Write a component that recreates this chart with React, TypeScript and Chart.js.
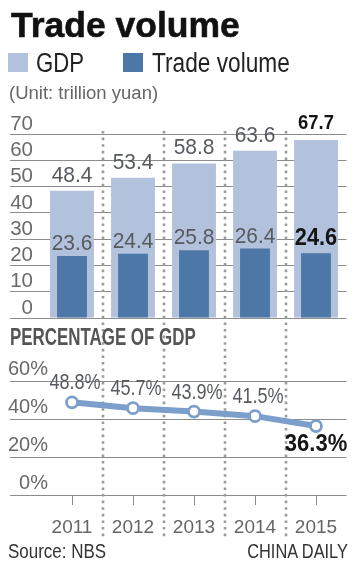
import { useEffect, useRef } from 'react';
import { Chart, registerables } from 'chart.js';

Chart.register(...registerables);

// ---- data ----
const years = ['2011', '2012', '2013', '2014', '2015'];
const gdp = [48.4, 53.4, 58.8, 63.6, 67.7];
const tradeVolume = [23.6, 24.4, 25.8, 26.4, 24.6];
const pctOfGdp = [48.8, 45.7, 43.9, 41.5, 36.3];
const barTicks = [0, 10, 20, 30, 40, 50, 60, 70];
const pctTicks = [0, 20, 40, 60];

// ---- style ----
const FONT = "'Liberation Sans', Arial, sans-serif";
const GDP_COLOR = '#b3c2dc';
const TRADE_COLOR = '#4d77a6';
const LINE_COLOR = '#7b9eca';
const GRID = '#8c8c8c';
const LABEL_GRAY = '#565a5f';

export default function App() {
  const ref = useRef<HTMLCanvasElement>(null);

  useEffect(() => {
    document.body.style.margin = '0';
    const canvas = ref.current;
    if (!canvas) return;

    // label styling per dataset: normal labels and the highlighted last one
    const labelStyles = [
      { size: 22.5, sx: 0.93, dy: -9, dx: 0, bSize: 20.5, bSx: 0.9, bDy: -11, suffix: '' },
      { size: 22.5, sx: 0.93, dy: -6, dx: 0, bSize: 24.5, bSx: 0.89, bDy: -8.5, suffix: '' },
      { size: 21.5, sx: 0.84, dy: -13, dx: 3, bSize: 23.3, bSx: 0.945, bDy: 25, suffix: '%' },
    ];

    const valueLabels = {
      id: 'valueLabels',
      afterDatasetsDraw(chart: any) {
        const ctx = chart.ctx;
        chart.data.datasets.forEach((ds: any, di: number) => {
          const meta = chart.getDatasetMeta(di);
          const st = labelStyles[di];
          meta.data.forEach((el: any, i: number) => {
            const v = ds.data[i] as number;
            const last = i === meta.data.length - 1;
            const text = v.toFixed(1) + st.suffix;
            ctx.save();
            ctx.textAlign = 'center';
            ctx.textBaseline = 'alphabetic';
            if (last) {
              ctx.font = `bold ${st.bSize}px ${FONT}`;
              ctx.fillStyle = '#151515';
              ctx.translate(el.x, el.y + st.bDy);
              ctx.scale(st.bSx, 1);
            } else {
              ctx.font = `${st.size}px ${FONT}`;
              ctx.fillStyle = LABEL_GRAY;
              ctx.translate(el.x + st.dx, el.y + st.dy);
              ctx.scale(st.sx, 1);
            }
            ctx.fillText(text, 0, 0);
            ctx.restore();
          });
        });
      },
    };

    const dividers = {
      id: 'dividers',
      beforeDatasetsDraw(chart: any) {
        const ctx = chart.ctx;
        const xs = chart.scales.x;
        const area = chart.chartArea;
        ctx.save();
        ctx.strokeStyle = '#9b9b9b';
        ctx.lineWidth = 2.6;
        ctx.setLineDash([2.6, 4]);
        for (let i = 0; i < years.length - 1; i++) {
          const px = Math.round((xs.getPixelForValue(i) + xs.getPixelForValue(i + 1)) / 2);
          ctx.beginPath();
          ctx.moveTo(px, area.top - 3);
          ctx.lineTo(px, area.bottom + 42);
          ctx.stroke();
        }
        ctx.restore();
      },
    };

    const chart = new Chart(canvas, {
      type: 'bar',
      data: {
        labels: years,
        datasets: [
          {
            label: 'GDP',
            data: gdp,
            backgroundColor: GDP_COLOR,
            yAxisID: 'yBar',
            grouped: false,
            barPercentage: 0.72,
            categoryPercentage: 1,
            order: 2,
          } as any,
          {
            label: 'Trade volume',
            data: tradeVolume,
            backgroundColor: TRADE_COLOR,
            yAxisID: 'yBar',
            grouped: false,
            barPercentage: 0.49,
            categoryPercentage: 1,
            order: 1,
          } as any,
          {
            type: 'line',
            label: 'Percentage of GDP',
            data: pctOfGdp,
            yAxisID: 'yLine',
            borderColor: LINE_COLOR,
            borderWidth: 6,
            pointRadius: 5.5,
            pointBorderWidth: 2.8,
            pointBackgroundColor: '#ffffff',
            pointBorderColor: LINE_COLOR,
            tension: 0,
            order: 0,
          } as any,
        ],
      },
      options: {
        animation: false,
        responsive: false,
        devicePixelRatio: 1,
        layout: { padding: { top: 134, right: 14.5, bottom: 33, left: 0 } },
        plugins: {
          legend: { display: false },
          tooltip: { enabled: false },
        },
        scales: {
          x: {
            type: 'category',
            offset: true,
            border: { display: false },
            grid: {
              drawOnChartArea: false,
              drawTicks: true,
              tickLength: 10,
              offset: false,
              color: GRID,
            },
            ticks: {
              font: { family: FONT, size: 19 },
              color: '#666666',
              padding: 11,
              autoSkip: false,
              maxRotation: 0,
            },
            afterFit: (s: any) => {
              s.height = 43;
            },
          },
          yBar: {
            type: 'linear',
            position: 'left',
            stack: 'main',
            stackWeight: 184,
            weight: 2,
            min: 0,
            max: 70,
            border: { display: false },
            grid: { color: GRID, drawTicks: true, tickLength: 31.5 },
            ticks: {
              font: { family: FONT, size: 20.5 },
              color: '#6a6a6a',
              padding: -23,
              labelOffset: -10,
              autoSkip: false,
            },
            afterBuildTicks: (s: any) => {
              s.ticks = barTicks.map((v) => ({ value: v }));
            },
            afterFit: (s: any) => {
              s.width = 41.5;
            },
          },
          yLine: {
            type: 'linear',
            position: 'left',
            stack: 'main',
            stackWeight: 177,
            weight: 1,
            min: 0,
            max: 93.16,
            border: { display: false },
            grid: { color: GRID, drawTicks: true, tickLength: 31.5 },
            ticks: {
              font: { family: FONT, size: 20 },
              color: '#6a6a6a',
              mirror: true,
              crossAlign: 'far',
              padding: -33.5,
              labelOffset: -11.5,
              autoSkip: false,
              callback: (v: any) => `${v}%`,
            },
            afterBuildTicks: (s: any) => {
              s.ticks = pctTicks.map((v) => ({ value: v }));
            },
            afterFit: (s: any) => {
              s.width = 41.5;
            },
          },
        } as any,
      },
      plugins: [dividers, valueLabels],
    });

    return () => chart.destroy();
  }, []);

  const abs = (o: any) => ({
    position: 'absolute' as const,
    whiteSpace: 'nowrap' as const,
    lineHeight: 1,
    margin: 0,
    fontFamily: FONT,
    ...o,
  });

  return (
    <div style={{ position: 'relative', width: 361, height: 571, background: '#fff', overflow: 'hidden' }}>
      <canvas ref={ref} width={361} height={571} style={{ position: 'absolute', left: 0, top: 0, width: 361, height: 571 }} />
      <div style={abs({ left: 11, top: 8, fontWeight: 700, fontSize: 35.5, color: '#111', WebkitTextStroke: '0.6px #111' })}>
        Trade volume
      </div>
      <div style={abs({ left: 8, top: 53, width: 20, height: 19, background: GDP_COLOR })} />
      <div style={abs({ left: 36, top: 49.6, fontSize: 27, color: '#222', transform: 'scaleX(0.82)', transformOrigin: 'left top' })}>GDP</div>
      <div style={abs({ left: 123, top: 53, width: 20, height: 19, background: TRADE_COLOR })} />
      <div style={abs({ left: 152, top: 49.6, fontSize: 27, color: '#222', transform: 'scaleX(0.84)', transformOrigin: 'left top' })}>
        Trade volume
      </div>
      <div style={abs({ left: 9, top: 83.8, fontSize: 18.5, color: '#666' })}>(Unit: trillion yuan)</div>
      <div style={abs({ left: 10, top: 325.5, fontWeight: 700, fontSize: 23, color: '#555', transform: 'scaleX(0.735)', transformOrigin: 'left top' })}>
        PERCENTAGE OF GDP
      </div>
      <div style={abs({ left: 8, top: 542, fontSize: 19.5, color: '#333', transform: 'scaleX(0.87)', transformOrigin: 'left top' })}>
        Source: NBS
      </div>
      <div style={abs({ right: 13, top: 542, fontSize: 19.5, color: '#333', transform: 'scaleX(0.84)', transformOrigin: 'right top' })}>
        CHINA DAILY
      </div>
    </div>
  );
}
